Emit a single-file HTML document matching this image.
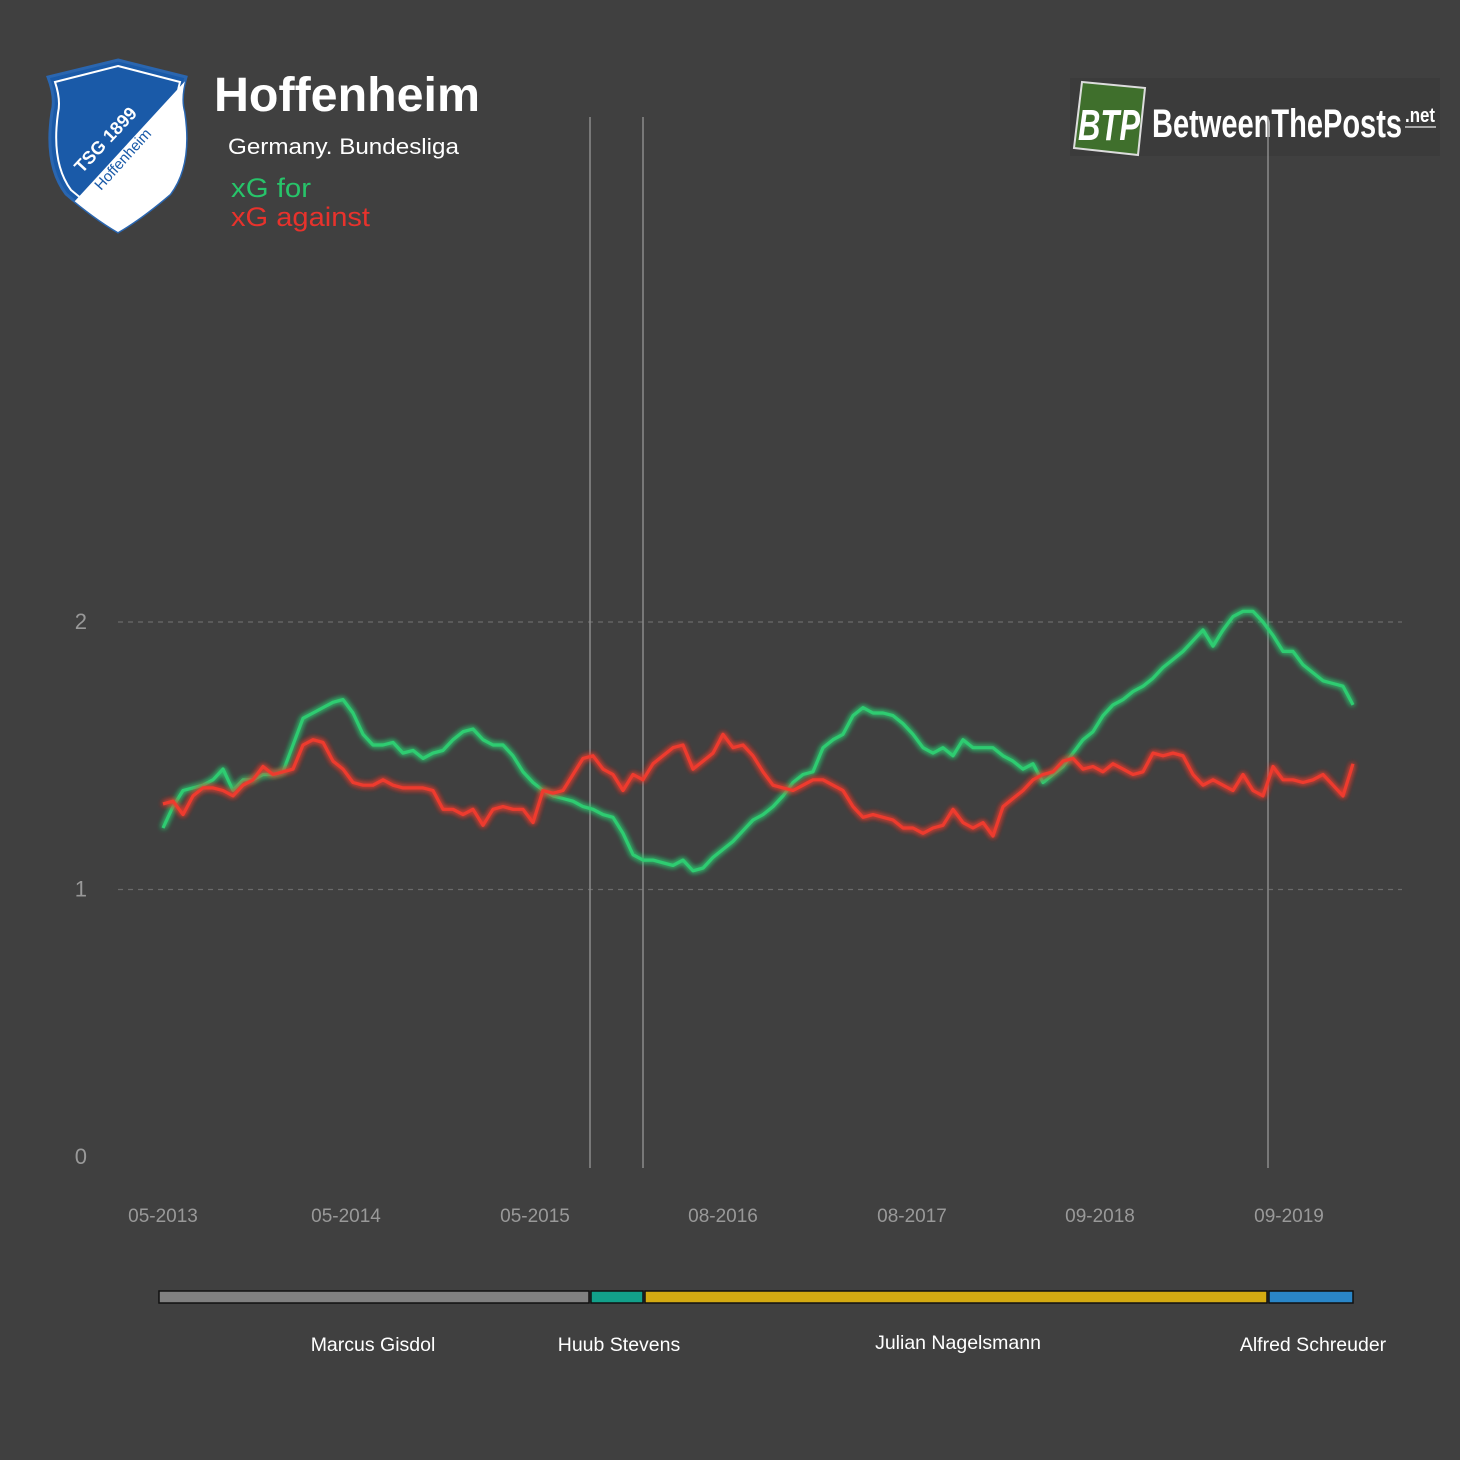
<!DOCTYPE html>
<html><head><meta charset="utf-8"><style>
body{margin:0;background:#404040;}
svg{display:block;font-family:"Liberation Sans",sans-serif;}
</style></head><body>
<svg id="chart" width="1460" height="1460" viewBox="0 0 1460 1460">
<rect width="1460" height="1460" fill="#404040"/>
<defs>
<filter id="glow" x="-5%" y="-20%" width="110%" height="140%"><feGaussianBlur stdDeviation="3" result="b"/><feMerge><feMergeNode in="b"/><feMergeNode in="b"/><feMergeNode in="SourceGraphic"/></feMerge></filter>
<clipPath id="shieldClip"><path d="M118,60 L186,77 Q180,98 184,112 Q192,165 170,194 Q142,218 118,232 Q94,218 66,194 Q44,165 52,112 Q56,98 48,77 Z"/></clipPath>
</defs>
<g>
<path d="M118,60 L186,77 Q180,98 184,112 Q192,165 170,194 Q142,218 118,232 Q94,218 66,194 Q44,165 52,112 Q56,98 48,77 Z" fill="#1a5aa8" stroke="#2a66b0" stroke-width="3"/>
<g clip-path="url(#shieldClip)"><polygon points="187,79 200,77 200,240 60,240 74,202" fill="#fff"/></g>
<path d="M118,66 L180,82 Q175,100 178,113 Q185,163 165,190 Q140,211 118,224 Q96,211 71,190 Q51,163 58,113 Q61,100 55,82 Z" fill="none" stroke="#fff" stroke-width="2"/>
<text x="0" y="0" transform="translate(82,174) rotate(-47)" fill="#fff" font-weight="bold" font-size="18">TSG 1899</text>
<text x="0" y="0" transform="translate(101,191) rotate(-48)" fill="#1a5aa8" font-size="15">Hoffenheim</text>
</g>
<text x="214" y="111" fill="#fff" font-weight="bold" font-size="48" textLength="266" lengthAdjust="spacingAndGlyphs">Hoffenheim</text>
<text x="228" y="154" fill="#fff" font-size="22" textLength="231" lengthAdjust="spacingAndGlyphs">Germany. Bundesliga</text>
<text x="231" y="197" fill="#27c46a" font-size="27" textLength="80" lengthAdjust="spacingAndGlyphs">xG for</text>
<text x="231" y="226" fill="#e8322c" font-size="27" textLength="139" lengthAdjust="spacingAndGlyphs">xG against</text>
<g>
<rect x="1070" y="78" width="370" height="78" fill="#3b3b3b"/>
<polygon points="1082,82 1145,88 1138,155 1074,148" fill="#3f6f2c" stroke="#ddd" stroke-width="2"/>
<text x="1078" y="140" fill="#fff" font-weight="bold" font-style="italic" font-size="44" textLength="62" lengthAdjust="spacingAndGlyphs">BTP</text>
<text x="1152" y="137" fill="#fff" font-weight="bold" font-size="40" textLength="250" lengthAdjust="spacingAndGlyphs">BetweenThePosts</text>
<text x="1405" y="122" fill="#fff" font-weight="bold" font-size="20" textLength="30" lengthAdjust="spacingAndGlyphs">.net</text>
<line x1="1405" y1="127" x2="1436" y2="127" stroke="#ccc" stroke-width="1.5"/>
</g>
<g id="axes"></g>
<g id="series"></g>
<g id="managers"></g>
</svg>
<script>
const yTickValues=[0,1,2];
const gridValues=[1,2];
const xTickLabels=["05-2013","05-2014","05-2015","08-2016","08-2017","09-2018","09-2019"];
const xTickIndex=[0,18.3,37.2,56,74.9,93.7,112.6];
const xgFor=[1.23,1.31,1.37,1.38,1.39,1.41,1.45,1.37,1.41,1.41,1.43,1.43,1.44,1.54,1.64,1.66,1.68,1.70,1.71,1.66,
1.58,1.54,1.54,1.55,1.51,1.52,1.49,1.51,1.52,1.56,1.59,1.60,1.56,1.54,1.54,1.50,1.44,1.40,1.37,1.35,
1.34,1.33,1.31,1.30,1.28,1.27,1.21,1.13,1.11,1.11,1.10,1.09,1.11,1.07,1.08,1.12,1.15,1.18,1.22,1.26,
1.28,1.31,1.35,1.40,1.43,1.44,1.53,1.56,1.58,1.65,1.68,1.66,1.66,1.65,1.62,1.58,1.53,1.51,1.53,1.50,
1.56,1.53,1.53,1.53,1.50,1.48,1.45,1.47,1.40,1.43,1.46,1.51,1.56,1.59,1.65,1.69,1.71,1.74,1.76,1.79,
1.83,1.86,1.89,1.93,1.97,1.91,1.97,2.02,2.04,2.04,2.00,1.95,1.89,1.89,1.84,1.81,1.78,1.77,1.76,1.69];
const xgAgainst=[1.32,1.33,1.28,1.35,1.38,1.38,1.37,1.35,1.39,1.41,1.46,1.43,1.44,1.45,1.54,1.56,1.55,1.48,1.45,1.40,
1.39,1.39,1.41,1.39,1.38,1.38,1.38,1.37,1.30,1.30,1.28,1.30,1.24,1.30,1.31,1.30,1.30,1.25,1.37,1.36,
1.37,1.43,1.49,1.50,1.45,1.43,1.37,1.43,1.41,1.47,1.50,1.53,1.54,1.45,1.48,1.51,1.58,1.53,1.54,1.50,
1.44,1.39,1.38,1.37,1.39,1.41,1.41,1.39,1.37,1.31,1.27,1.28,1.27,1.26,1.23,1.23,1.21,1.23,1.24,1.30,
1.25,1.23,1.25,1.20,1.31,1.34,1.37,1.41,1.43,1.44,1.48,1.49,1.45,1.46,1.44,1.47,1.45,1.43,1.44,1.51,
1.50,1.51,1.50,1.43,1.39,1.41,1.39,1.37,1.43,1.37,1.35,1.46,1.41,1.41,1.40,1.41,1.43,1.39,1.35,1.47];
const managerNames=["Marcus Gisdol","Huub Stevens","Julian Nagelsmann","Alfred Schreuder"];
const managerStart=[0,43.2,48.6,111];
const managerEnd=[42.6,48,110.4,119];
const managerColors=["#808080","#12a08a","#d4aa12","#2a86c8"];
const changeIndex=[42.7,48,110.5];

const NS="http://www.w3.org/2000/svg";
const X0=163,X1=1353,N=xgFor.length;
const x=i=>X0+(X1-X0)*i/(N-1);
const y=v=>1157-267.5*v;
function mk(tag,attrs,parent,text){const e=document.createElementNS(NS,tag);for(const k in attrs)e.setAttribute(k,attrs[k]);if(text!==undefined)e.textContent=text;parent.appendChild(e);return e;}
const axes=document.getElementById('axes');
gridValues.forEach(v=>{
 const l=mk('line',{x1:118,x2:1402,y1:y(v),y2:y(v),stroke:'#6a6a6a','stroke-width':1.2,'stroke-dasharray':'5,5'},axes);
 
 
});
yTickValues.forEach(v=>{
 const t=mk('text',{x:87,y:y(v)+7,fill:'#999','font-size':22,'text-anchor':'end'},axes,String(v));
 
 
});
xTickLabels.forEach((s,i)=>{
 const t=mk('text',{x:x(xTickIndex[i]),y:1222,fill:'#999','font-size':19,'text-anchor':'middle'},axes,s);
 
 
});
changeIndex.forEach((c,i)=>{
 const l=mk('line',{x1:x(c),x2:x(c),y1:117,y2:1168,stroke:'#8a8a8a','stroke-width':1.5},axes);
 
 
});
const series=document.getElementById('series');
function drawLine(vals,color,name){
 const d=vals.map((v,i)=>(i?'L':'M')+x(i).toFixed(1)+','+y(v).toFixed(1)).join(' ');
 const p=mk('path',{d:d,fill:'none',stroke:color,'stroke-width':3.2,'stroke-linejoin':'round',filter:'url(#glow)'},series);
 
 
}
drawLine(xgFor,'#2ecc71','xg-for-line');
drawLine(xgAgainst,'#ee3a2e','xg-against-line');
const mg=document.getElementById('managers');
managerNames.forEach((n,i)=>{
 const x0=x(managerStart[i])-4,x1=x(managerEnd[i]);
 const r=mk('rect',{x:x0,y:1291,width:x1-x0,height:12,fill:managerColors[i],stroke:'#111','stroke-width':1.5},mg);
 
 
 const lx=[373,619,958,1313][i];
 const t=mk('text',{x:lx,y:i==2?1349:1351,fill:'#fff','font-size':19.5,'text-anchor':'middle'},mg,n);
 
 
});
</script>
</body></html>
